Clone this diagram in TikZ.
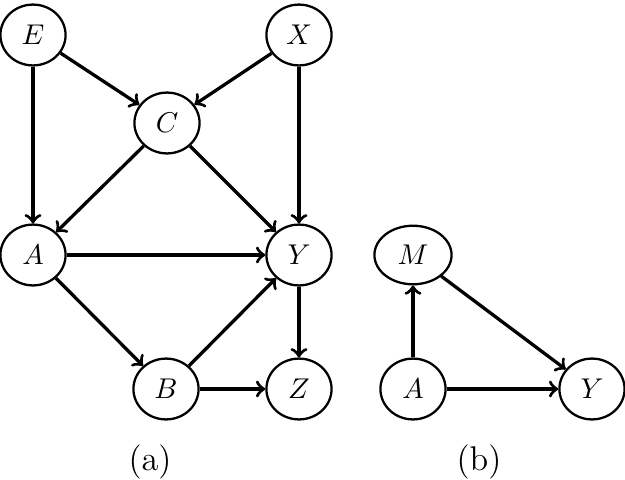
\documentclass[tikz,border=0pt]{standalone}
\usetikzlibrary{shapes.geometric}
\begin{document}
\begin{tikzpicture}[x=0.35pt,y=-0.35pt,
  vnode/.style={draw,ellipse,line width=0.8pt,inner sep=0pt,minimum width=22.8pt,minimum height=21.3pt},
  wnode/.style={vnode,minimum width=27pt,minimum height=20.5pt},
  edge/.style={->,line width=1.15pt},
  captext/.style={inner sep=0pt,font=\large}]
\useasboundingbox (0,0) rectangle (625,479);
\node[vnode] (E) at (33,35) {$E$};
\node[vnode] (X) at (299,35) {$X$};
\node[vnode] (C) at (167,123) {$C$};
\node[vnode] (A) at (33,255) {$A$};
\node[vnode] (Y) at (299,255) {$Y$};
\node[vnode] (B) at (166,389) {$B$};
\node[vnode] (Z) at (299,389) {$Z$};
\node[wnode] (M) at (413,255) {$M$};
\node[vnode] (A2) at (413,389) {$A$};
\node[vnode] (Y2) at (592,389) {$Y$};
\node[captext] (ca) at (150,462) {(a)};
\node[captext] (cb) at (479,462) {(b)};
\draw[edge] (E) -- (C);
\draw[edge] (E) -- (A);
\draw[edge] (X) -- (C);
\draw[edge] (X) -- (Y);
\draw[edge] (C) -- (A);
\draw[edge] (C) -- (Y);
\draw[edge] (A) -- (Y);
\draw[edge] (A) -- (B);
\draw[edge] (B) -- (Y);
\draw[edge] (B) -- (Z);
\draw[edge] (Y) -- (Z);
\draw[edge] (A2) -- (M);
\draw[edge] (A2) -- (Y2);
\draw[edge] (M) -- (Y2);
\end{tikzpicture}
\end{document}
